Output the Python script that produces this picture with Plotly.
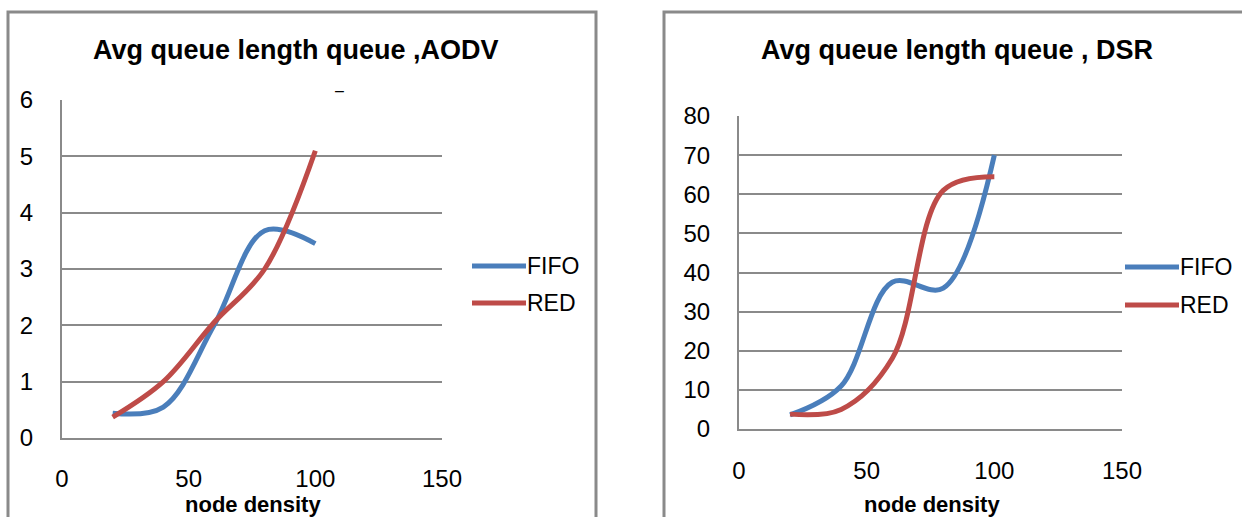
import plotly.graph_objects as go

# Node density values (x) shared by both panels
node_density = [20, 40, 60, 80, 100]

# Average queue length, AODV
aodv_fifo = [0.44, 0.55, 2.0, 3.68, 3.45]
aodv_red = [0.37, 1.0, 2.05, 3.0, 5.1]

# Average queue length, DSR
dsr_fifo = [3.6, 11.0, 37.5, 36.0, 70.0]
dsr_red = [3.8, 5.0, 18.0, 61.0, 64.5]

x_ticks = [0, 50, 100, 150]
aodv_y_ticks = [0, 1, 2, 3, 4, 5, 6]
dsr_y_ticks = [0, 10, 20, 30, 40, 50, 60, 70, 80]

series_names = ["FIFO", "RED"]
titles = ["Avg queue length queue ,AODV", "Avg queue length queue , DSR"]
x_title = "node density"

W, H = 1242, 517
BLUE = "#4A7EBB"
RED = "#BE4B48"
GRID = "#8A8A8A"
LINE_W = 5
FONT = "Liberation Sans Narrow, Arial Narrow, Liberation Sans, Arial, sans-serif"


def px(x):
    return x / W


def py(y):
    return 1 - y / H


fig = go.Figure()

for xa, ya, ys, color, name in [
    ("x", "y", aodv_fifo, BLUE, series_names[0]),
    ("x", "y", aodv_red, RED, series_names[1]),
    ("x2", "y2", dsr_fifo, BLUE, series_names[0]),
    ("x2", "y2", dsr_red, RED, series_names[1]),
]:
    fig.add_trace(go.Scatter(
        x=node_density, y=ys, name=name, mode="lines",
        line=dict(color=color, width=LINE_W, shape="spline", smoothing=1),
        xaxis=xa, yaxis=ya, showlegend=False,
    ))

axis_common = dict(
    showline=True, linecolor=GRID, linewidth=2,
    ticks="", zeroline=False, automargin=False,
    tickfont=dict(family=FONT, size=24, color="#000000"),
)

fig.update_layout(
    width=W, height=H,
    margin=dict(l=0, r=0, t=0, b=0),
    paper_bgcolor="white", plot_bgcolor="white",
    font=dict(family=FONT, color="#000000"),
    xaxis=dict(domain=[px(62), px(442)], range=[0, 150], tickvals=x_ticks,
               showgrid=False, anchor="y", ticklabelstandoff=18, **axis_common),
    yaxis=dict(domain=[py(438), py(100)], range=[0, 6], tickvals=aodv_y_ticks,
               showgrid=True, gridcolor=GRID, gridwidth=2, anchor="x",
               ticklabelstandoff=22, **axis_common),
    xaxis2=dict(domain=[px(739), px(1122)], range=[0, 150], tickvals=x_ticks,
                showgrid=False, anchor="y2", ticklabelstandoff=19, **axis_common),
    yaxis2=dict(domain=[py(429), py(116)], range=[0, 80], tickvals=dsr_y_ticks,
                showgrid=True, gridcolor=GRID, gridwidth=2, anchor="x2",
                ticklabelstandoff=22, **axis_common),
)

shapes = []
annotations = []

# Chart frames
for x0 in (8, 664):
    shapes.append(dict(type="rect", xref="paper", yref="paper",
                       x0=px(x0), x1=px(x0 + 588), y0=py(540), y1=py(12),
                       line=dict(color=GRID, width=3), fillcolor="rgba(0,0,0,0)"))

# Titles and axis titles
for cx, title in [(296, titles[0]), (957, titles[1])]:
    annotations.append(dict(text="<b>%s</b>" % title, x=px(cx), y=py(50),
                            xref="paper", yref="paper", showarrow=False,
                            xanchor="center", yanchor="middle",
                            font=dict(family=FONT, size=27)))
for cx in (253, 932):
    annotations.append(dict(text="<b>%s</b>" % x_title, x=px(cx), y=py(504),
                            xref="paper", yref="paper", showarrow=False,
                            xanchor="center", yanchor="middle",
                            font=dict(family=FONT, size=22)))

# Stray dash above the AODV plot area
annotations.append(dict(text="–", x=px(339), y=py(90), xref="paper", yref="paper",
                        showarrow=False, xanchor="center", yanchor="middle",
                        font=dict(family=FONT, size=16)))

# Legends
for lx0, ys in [(472, (266, 303)), (1125, (267, 305))]:
    for yy, color, name in [(ys[0], BLUE, series_names[0]), (ys[1], RED, series_names[1])]:
        shapes.append(dict(type="line", xref="paper", yref="paper",
                           x0=px(lx0), x1=px(lx0 + 54), y0=py(yy), y1=py(yy),
                           line=dict(color=color, width=LINE_W)))
        annotations.append(dict(text=name, x=px(lx0 + 53), y=py(yy), xref="paper",
                                yref="paper", showarrow=False, xanchor="left",
                                yanchor="middle", font=dict(family=FONT, size=23)))

fig.update_layout(shapes=shapes, annotations=annotations)

fig.write_html("out.html")
